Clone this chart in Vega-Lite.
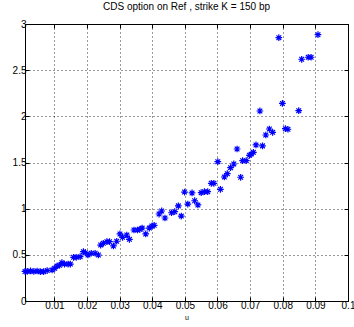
{
  "$schema": "https://vega.github.io/schema/vega-lite/v6.json",
  "autosize": "none",
  "width": 323,
  "height": 277,
  "padding": {"left": 25, "top": 24, "right": 6, "bottom": 26},
  "background": "white",
  "config": {
    "font": "Liberation Sans",
    "view": {"stroke": "black", "strokeWidth": 1},
    "axis": {"labelFont": "Liberation Sans", "titleFont": "Liberation Sans"}
  },
  "title": {"text": "CDS option on Ref , strike K = 150 bp", "fontSize": 10, "fontWeight": "normal", "font": "Liberation Sans", "color": "#000", "offset": 7},
  "data": {"values": [
    {"u": 0.0010, "v": 0.32}, {"u": 0.0017, "v": 0.32}, {"u": 0.0027, "v": 0.326}, {"u": 0.0037, "v": 0.32},
    {"u": 0.0047, "v": 0.325}, {"u": 0.0057, "v": 0.318}, {"u": 0.0067, "v": 0.318}, {"u": 0.0078, "v": 0.33},
    {"u": 0.0093, "v": 0.336}, {"u": 0.0101, "v": 0.354}, {"u": 0.0108, "v": 0.379}, {"u": 0.0116, "v": 0.387},
    {"u": 0.0123, "v": 0.415}, {"u": 0.0131, "v": 0.40}, {"u": 0.0142, "v": 0.40}, {"u": 0.0149, "v": 0.40},
    {"u": 0.0159, "v": 0.473}, {"u": 0.0167, "v": 0.473}, {"u": 0.0179, "v": 0.48}, {"u": 0.0189, "v": 0.534},
    {"u": 0.0195, "v": 0.523}, {"u": 0.0203, "v": 0.498}, {"u": 0.0213, "v": 0.517}, {"u": 0.0225, "v": 0.517},
    {"u": 0.0235, "v": 0.498}, {"u": 0.0242, "v": 0.606}, {"u": 0.0250, "v": 0.625}, {"u": 0.0261, "v": 0.642},
    {"u": 0.0269, "v": 0.642}, {"u": 0.0281, "v": 0.596}, {"u": 0.0291, "v": 0.647}, {"u": 0.0301, "v": 0.726},
    {"u": 0.0309, "v": 0.69}, {"u": 0.0322, "v": 0.715}, {"u": 0.0330, "v": 0.668}, {"u": 0.0344, "v": 0.769},
    {"u": 0.0355, "v": 0.769}, {"u": 0.0362, "v": 0.776}, {"u": 0.0369, "v": 0.79}, {"u": 0.0380, "v": 0.726},
    {"u": 0.0391, "v": 0.79}, {"u": 0.0399, "v": 0.812}, {"u": 0.0406, "v": 0.82}, {"u": 0.0421, "v": 0.942},
    {"u": 0.0429, "v": 0.975}, {"u": 0.0439, "v": 0.899}, {"u": 0.0459, "v": 0.956}, {"u": 0.0469, "v": 0.967},
    {"u": 0.0480, "v": 1.03}, {"u": 0.0489, "v": 0.92}, {"u": 0.0499, "v": 1.18}, {"u": 0.0509, "v": 1.05},
    {"u": 0.0522, "v": 1.17}, {"u": 0.0530, "v": 1.086}, {"u": 0.0540, "v": 1.04}, {"u": 0.0550, "v": 1.173},
    {"u": 0.0560, "v": 1.184}, {"u": 0.0570, "v": 1.184}, {"u": 0.0581, "v": 1.275}, {"u": 0.0589, "v": 1.275},
    {"u": 0.0601, "v": 1.509}, {"u": 0.0609, "v": 1.21}, {"u": 0.0621, "v": 1.343}, {"u": 0.0630, "v": 1.379},
    {"u": 0.0640, "v": 1.444}, {"u": 0.0650, "v": 1.484}, {"u": 0.0660, "v": 1.646}, {"u": 0.0671, "v": 1.34},
    {"u": 0.0677, "v": 1.52}, {"u": 0.0688, "v": 1.52}, {"u": 0.0698, "v": 1.578}, {"u": 0.0703, "v": 1.59},
    {"u": 0.0710, "v": 1.61}, {"u": 0.0718, "v": 1.69}, {"u": 0.0730, "v": 2.058}, {"u": 0.0738, "v": 1.68},
    {"u": 0.0748, "v": 1.798}, {"u": 0.0759, "v": 1.863}, {"u": 0.0769, "v": 1.827}, {"u": 0.0788, "v": 2.852},
    {"u": 0.0799, "v": 2.14}, {"u": 0.0808, "v": 1.866}, {"u": 0.0816, "v": 1.86}, {"u": 0.0849, "v": 2.061},
    {"u": 0.0858, "v": 2.618}, {"u": 0.0878, "v": 2.64}, {"u": 0.0887, "v": 2.64}, {"u": 0.0908, "v": 2.884}
  ]},
  "layer": [
    {
      "mark": {"type": "point", "shape": "M-1,0L1,0M0,-1L0,1M-0.7,-0.7L0.7,0.7M-0.7,0.7L0.7,-0.7", "filled": false, "stroke": "#0000ff", "strokeWidth": 1.2, "size": 45, "opacity": 1},
      "encoding": {
        "x": {"field": "u", "type": "quantitative", "scale": {"domain": [0.001, 0.1], "nice": false, "zero": false},
          "axis": {"orient": "bottom", "values": [0.01,0.02,0.03,0.04,0.05,0.06,0.07,0.08,0.09,0.1], "format": "~g", "title": "u", "titleFontSize": 7, "titleFontWeight": "normal", "titlePadding": 3, "titleColor": "#000",
            "labelFontSize": 10, "labelColor": "#000", "labelPadding": 3, "tickSize": -4, "tickColor": "#000", "domainColor": "#000",
            "grid": true, "gridDash": [1, 3], "gridColor": "#000", "gridOpacity": 0.8, "labelFlush": false}},
        "y": {"field": "v", "type": "quantitative", "scale": {"domain": [0, 3], "nice": false},
          "axis": {"orient": "left", "values": [0,0.5,1,1.5,2,2.5,3], "format": "~g", "title": null, "labelFontSize": 10, "labelColor": "#000", "labelPadding": 3, "tickSize": -4, "tickColor": "#000", "domainColor": "#000",
            "grid": true, "gridDash": [1, 3], "gridColor": "#000", "gridOpacity": 0.8}}
      }
    },
    {
      "mark": {"type": "point", "opacity": 0},
      "encoding": {
        "x": {"field": "u", "type": "quantitative", "axis": {"orient": "top", "values": [0.01,0.02,0.03,0.04,0.05,0.06,0.07,0.08,0.09,0.1], "labels": false, "title": null, "tickSize": -4, "tickColor": "#000", "domainColor": "#000", "grid": false}},
        "y": {"field": "v", "type": "quantitative", "axis": {"orient": "right", "values": [0,0.5,1,1.5,2,2.5,3], "labels": false, "title": null, "tickSize": -4, "tickColor": "#000", "domainColor": "#000", "grid": false}}
      }
    }
  ],
  "resolve": {"axis": {"x": "independent", "y": "independent"}}
}
